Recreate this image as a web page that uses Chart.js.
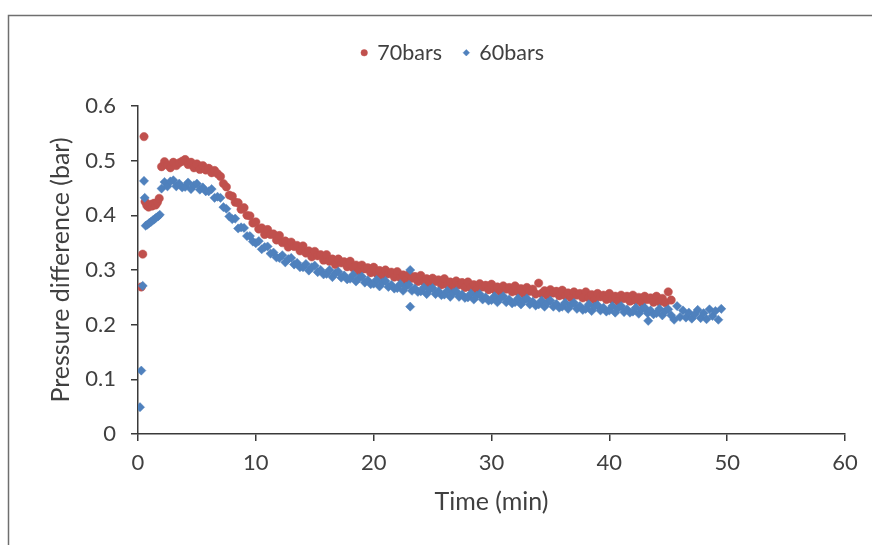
<!DOCTYPE html>
<html>
<head>
<meta charset="utf-8">
<script src="https://cdn.jsdelivr.net/npm/chart.js@4/dist/chart.umd.min.js"></script>
<style>
  body { margin: 0; background: #fff; }
</style>
</head>
<body>
<canvas id="myChart" width="872" height="545"></canvas>
<script>
// 70bars: time (min) and pressure difference (bar)
var time70 = [
  0.28, 0.4, 0.51, 0.6, 0.75, 0.9, 1.05, 1.2, 1.35, 1.5, 1.65, 1.8,
  2, 2.25, 2.5, 2.75, 3, 3.25, 3.5, 3.75,
  4, 4.25, 4.5, 4.75, 5, 5.25, 5.5, 5.75,
  6, 6.25, 6.5, 6.75, 7, 7.25, 7.5, 7.75,
  8, 8.25, 8.5, 8.75, 9, 9.25, 9.5, 9.75,
  10, 10.25, 10.5, 10.75, 11, 11.25, 11.5, 11.75,
  12, 12.25, 12.5, 12.75, 13, 13.25, 13.5, 13.75,
  14, 14.25, 14.5, 14.75, 15, 15.25, 15.5, 15.75,
  16, 16.25, 16.5, 16.75, 17, 17.25, 17.5, 17.75,
  18, 18.25, 18.5, 18.75, 19, 19.25, 19.5, 19.75,
  20, 20.25, 20.5, 20.75, 21, 21.25, 21.5, 21.75,
  22, 22.25, 22.5, 22.75, 23, 23.25, 23.5, 23.75,
  24, 24.25, 24.5, 24.75, 25, 25.25, 25.5, 25.75,
  26, 26.25, 26.5, 26.75, 27, 27.25, 27.5, 27.75,
  28, 28.25, 28.5, 28.75, 29, 29.25, 29.5, 29.75,
  30, 30.25, 30.5, 30.75, 31, 31.25, 31.5, 31.75,
  32, 32.25, 32.5, 32.75, 33, 33.25, 33.5, 33.75,
  34, 34.25, 34.5, 34.75, 35, 35.25, 35.5, 35.75,
  36, 36.25, 36.5, 36.75, 37, 37.25, 37.5, 37.75,
  38, 38.25, 38.5, 38.75, 39, 39.25, 39.5, 39.75,
  40, 40.25, 40.5, 40.75, 41, 41.25, 41.5, 41.75,
  42, 42.25, 42.5, 42.75, 43, 43.25, 43.5, 43.75,
  44, 44.25, 44.5, 44.75, 45, 45.25
];
var press70 = [
  0.269, 0.329, 0.544, 0.425, 0.418, 0.415, 0.420, 0.417, 0.422, 0.419, 0.424, 0.431,
  0.489, 0.498, 0.492, 0.487, 0.497, 0.491, 0.496, 0.499,
  0.502, 0.493, 0.497, 0.487, 0.494, 0.484, 0.491, 0.483,
  0.486, 0.478, 0.482, 0.476, 0.471, 0.458, 0.452, 0.437,
  0.435, 0.424, 0.423, 0.411, 0.414, 0.400, 0.399, 0.386,
  0.388, 0.375, 0.377, 0.365, 0.374, 0.365, 0.366, 0.355,
  0.363, 0.350, 0.353, 0.342, 0.351, 0.343, 0.345, 0.335,
  0.344, 0.331, 0.335, 0.324, 0.334, 0.326, 0.328, 0.318,
  0.328, 0.316, 0.320, 0.310, 0.320, 0.313, 0.315, 0.306,
  0.316, 0.304, 0.309, 0.298, 0.309, 0.302, 0.304, 0.295,
  0.305, 0.294, 0.299, 0.289, 0.300, 0.293, 0.296, 0.287,
  0.297, 0.286, 0.291, 0.281, 0.292, 0.285, 0.288, 0.279,
  0.290, 0.279, 0.284, 0.274, 0.285, 0.279, 0.282, 0.273,
  0.284, 0.273, 0.278, 0.269, 0.280, 0.273, 0.277, 0.268,
  0.278, 0.268, 0.273, 0.264, 0.275, 0.269, 0.272, 0.264,
  0.274, 0.264, 0.269, 0.260, 0.271, 0.265, 0.268, 0.260,
  0.271, 0.260, 0.266, 0.256, 0.268, 0.261, 0.265, 0.256,
  0.276, 0.257, 0.262, 0.253, 0.264, 0.258, 0.261, 0.253,
  0.263, 0.253, 0.258, 0.249, 0.260, 0.254, 0.257, 0.249,
  0.260, 0.249, 0.255, 0.245, 0.257, 0.251, 0.254, 0.246,
  0.257, 0.246, 0.252, 0.243, 0.254, 0.248, 0.252, 0.243,
  0.254, 0.244, 0.250, 0.240, 0.252, 0.246, 0.249, 0.241,
  0.252, 0.242, 0.248, 0.240, 0.260, 0.245
];

// 60bars
var time60 = [
  0.17, 0.28, 0.4, 0.51, 0.57, 0.65, 0.8, 0.95, 1.1, 1.25, 1.4, 1.55, 1.7, 1.85,
  2, 2.25, 2.5, 2.75, 3, 3.25, 3.5, 3.75,
  4, 4.25, 4.5, 4.75, 5, 5.25, 5.5, 5.75,
  6, 6.25, 6.5, 6.75, 7, 7.25, 7.5, 7.75,
  8, 8.25, 8.5, 8.75, 9, 9.25, 9.5, 9.75,
  10, 10.25, 10.5, 10.75, 11, 11.25, 11.5, 11.75,
  12, 12.25, 12.5, 12.75, 13, 13.25, 13.5, 13.75,
  14, 14.25, 14.5, 14.75, 15, 15.25, 15.5, 15.75,
  16, 16.25, 16.5, 16.75, 17, 17.25, 17.5, 17.75,
  18, 18.25, 18.5, 18.75, 19, 19.25, 19.5, 19.75,
  20, 20.25, 20.5, 20.75, 21, 21.25, 21.5, 21.75,
  22, 22.25, 22.5, 22.75, 23, 23.25, 23.5, 23.75,
  24, 24.25, 24.5, 24.75, 25, 25.25, 25.5, 25.75,
  26, 26.25, 26.5, 26.75, 27, 27.25, 27.5, 27.75,
  28, 28.25, 28.5, 28.75, 29, 29.25, 29.5, 29.75,
  30, 30.25, 30.5, 30.75, 31, 31.25, 31.5, 31.75,
  32, 32.25, 32.5, 32.75, 33, 33.25, 33.5, 33.75,
  34, 34.25, 34.5, 34.75, 35, 35.25, 35.5, 35.75,
  36, 36.25, 36.5, 36.75, 37, 37.25, 37.5, 37.75,
  38, 38.25, 38.5, 38.75, 39, 39.25, 39.5, 39.75,
  40, 40.25, 40.5, 40.75, 41, 41.25, 41.5, 41.75,
  42, 42.25, 42.5, 42.75, 43, 43.25, 43.5, 43.75,
  44, 44.25, 44.5, 44.75, 45, 45.25, 45.5, 45.75,
  46, 46.25, 46.5, 46.75, 47, 47.25, 47.5, 47.75,
  48, 48.25, 48.5, 48.75, 49, 49.25, 49.5,
  23.1, 23.1, 43.3
];
var press60 = [
  0.049, 0.116, 0.271, 0.463, 0.432, 0.381, 0.383, 0.386, 0.388, 0.391, 0.393, 0.396, 0.398, 0.401,
  0.449, 0.461, 0.453, 0.462, 0.464, 0.453, 0.458, 0.451,
  0.452, 0.460, 0.448, 0.455, 0.458, 0.447, 0.451, 0.444,
  0.444, 0.448, 0.432, 0.434, 0.432, 0.415, 0.412, 0.398,
  0.393, 0.394, 0.376, 0.378, 0.377, 0.362, 0.362, 0.352,
  0.349, 0.353, 0.338, 0.342, 0.343, 0.330, 0.332, 0.323,
  0.322, 0.327, 0.314, 0.320, 0.322, 0.310, 0.313, 0.305,
  0.305, 0.311, 0.299, 0.305, 0.308, 0.296, 0.300, 0.292,
  0.293, 0.300, 0.287, 0.294, 0.297, 0.286, 0.290, 0.283,
  0.284, 0.291, 0.279, 0.285, 0.288, 0.277, 0.281, 0.274,
  0.275, 0.282, 0.270, 0.277, 0.280, 0.269, 0.273, 0.266,
  0.267, 0.274, 0.262, 0.270, 0.273, 0.262, 0.266, 0.260,
  0.261, 0.268, 0.256, 0.264, 0.267, 0.256, 0.261, 0.254,
  0.255, 0.262, 0.251, 0.258, 0.261, 0.251, 0.255, 0.249,
  0.250, 0.257, 0.246, 0.253, 0.256, 0.246, 0.250, 0.244,
  0.245, 0.252, 0.241, 0.248, 0.252, 0.241, 0.246, 0.239,
  0.241, 0.248, 0.237, 0.244, 0.248, 0.237, 0.242, 0.235,
  0.237, 0.244, 0.233, 0.240, 0.244, 0.233, 0.238, 0.231,
  0.233, 0.240, 0.229, 0.236, 0.240, 0.229, 0.234, 0.227,
  0.229, 0.237, 0.225, 0.233, 0.236, 0.226, 0.231, 0.224,
  0.226, 0.234, 0.222, 0.230, 0.234, 0.223, 0.228, 0.222,
  0.224, 0.231, 0.220, 0.228, 0.231, 0.221, 0.226, 0.219,
  0.221, 0.229, 0.217, 0.225, 0.228, 0.217, 0.209, 0.234,
  0.214, 0.226, 0.213, 0.222, 0.211, 0.219, 0.227, 0.212,
  0.221, 0.210, 0.228, 0.216, 0.225, 0.209, 0.229,
  0.300, 0.233, 0.207
];

var xTicks = [0, 10, 20, 30, 40, 50, 60];
var yTicks = [0, 0.1, 0.2, 0.3, 0.4, 0.5, 0.6];

function toPoints(xs, ys) {
    return xs.map(function (x, i) { return { x: x, y: ys[i] }; });
}

var textColor = '#404040';
var axisColor = '#3a3a3a';
var fontFamily = 'Lato';

// thin frame around the chart, like the spreadsheet chart border
var frame = {
    id: 'frame',
    beforeDraw: function (chart) {
        var c = chart.ctx;
        c.save();
        c.strokeStyle = '#6f6f6f';
        c.lineWidth = 1.5;
        c.beginPath();
        c.moveTo(8.5, 545);
        c.lineTo(8.5, 15.5);
        c.lineTo(872, 15.5);
        c.stroke();
        c.restore();
    }
};

var ctx = document.getElementById('myChart').getContext('2d');
var myChart = new Chart(ctx, {
    type: 'scatter',
    data: {
        datasets: [
            {
                label: '70bars',
                data: toPoints(time70, press70),
                xAxisID: 'x',
                yAxisID: 'y',
                pointStyle: 'circle',
                pointRadius: 4.2,
                pointHoverRadius: 4.2,
                backgroundColor: '#c0504d',
                borderColor: '#c0504d',
                borderWidth: 0.5,
                order: 2
            },
            {
                label: '60bars',
                data: toPoints(time60, press60),
                xAxisID: 'x',
                yAxisID: 'y',
                pointStyle: 'rectRot',
                pointRadius: 4.6,
                pointHoverRadius: 4.6,
                backgroundColor: '#4f81bd',
                borderColor: '#4f81bd',
                borderWidth: 0.5,
                order: 1
            }
        ]
    },
    plugins: [frame],
    options: {
        responsive: false,
        animation: false,
        layout: { padding: { top: 20, right: 0, left: 34, bottom: 0 } },
        plugins: {
            tooltip: { enabled: false },
            legend: {
                position: 'top',
                reverse: true,
                labels: {
                    usePointStyle: true,
                    boxWidth: 4.6,
                    boxHeight: 4.6,
                    padding: 22,
                    color: textColor,
                    font: { family: fontFamily, size: 21.5 }
                }
            }
        },
        scales: {
            x: {
                type: 'linear',
                position: 'bottom',
                min: 0,
                max: 60,
                afterBuildTicks: function (s) { s.ticks = xTicks.map(function (v) { return { value: v }; }); },
                afterFit: function (s) { s.height = 111; s.paddingRight = 27; },
                grid: { drawOnChartArea: false, drawTicks: true, tickLength: 7, color: axisColor, lineWidth: 1.5 },
                border: { color: axisColor, width: 1.5 },
                ticks: { color: textColor, padding: 9, font: { family: fontFamily, size: 22 } },
                title: {
                    display: true,
                    text: 'Time (min)',
                    color: textColor,
                    font: { family: fontFamily, size: 25 },
                    padding: { top: 0, bottom: 28 }
                }
            },
            y: {
                min: 0,
                max: 0.6,
                afterBuildTicks: function (s) { s.ticks = yTicks.map(function (v) { return { value: v }; }); },
                afterFit: function (s) { s.width = 104; },
                grid: { drawOnChartArea: false, drawTicks: true, tickLength: 7, color: axisColor, lineWidth: 1.5 },
                border: { color: axisColor, width: 1.5 },
                ticks: {
                    color: textColor,
                    padding: 15,
                    font: { family: fontFamily, size: 22 },
                    callback: function (v) { return v === 0 ? '0' : v.toFixed(1); }
                },
                title: {
                    display: true,
                    text: 'Pressure difference (bar)',
                    color: textColor,
                    font: { family: fontFamily, size: 25 },
                    padding: { top: 12, bottom: 0 }
                }
            },
            // empty band between legend and plot
            gap: {
                type: 'linear',
                position: 'top',
                min: 0,
                max: 1,
                grid: { display: false },
                border: { display: false },
                ticks: { display: false },
                afterFit: function (s) { s.height = 32.5; }
            }
        }
    }
});
</script>
</body>
</html>
